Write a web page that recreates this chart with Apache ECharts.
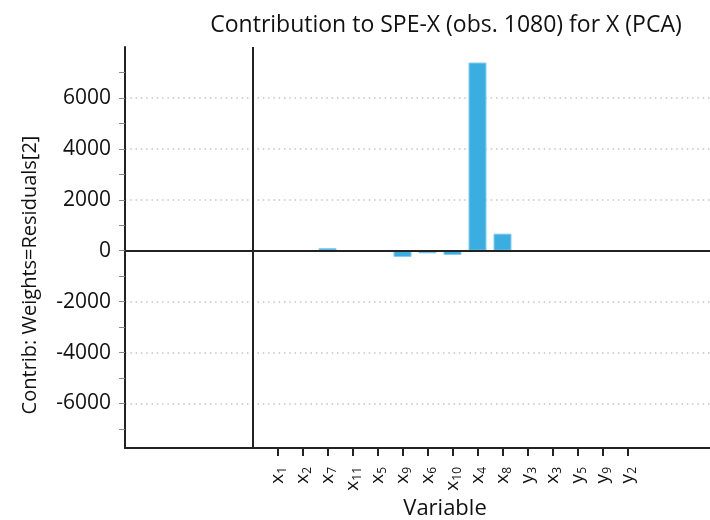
<!DOCTYPE html>
<html>
<head>
<meta charset="utf-8">
<script src="https://cdn.jsdelivr.net/npm/echarts@6/dist/echarts.min.js"></script>
<style>
html,body{margin:0;padding:0;background:#fff;}
#chart{width:710px;height:520px;}
</style>
</head>
<body>
<div id="chart"></div>
<script>
// Data
const variableNames = ['x', 'x', 'x', 'x', 'x', 'x', 'x', 'x', 'x', 'x', 'y', 'x', 'y', 'y', 'y'];
const variableSubs = ['1', '2', '7', '11', '5', '9', '6', '10', '4', '8', '3', '3', '5', '9', '2'];
const positions = [1, 2, 3, 4, 5, 6, 7, 8, 9, 10, 11, 12, 13, 14, 15];
const contribValues = [6, 4, 100, 5, 8, -250, -105, -170, 7390, 670, 5, 4, 6, 3, 5];
const yLabelTicks = [-6000, -4000, -2000, 0, 2000, 4000, 6000];
const yMinorTicks = [-7000, -6000, -5000, -4000, -3000, -2000, -1000, 0, 1000, 2000, 3000, 4000, 5000, 6000, 7000];

const FONT = 'Open Sans';
const chart = echarts.init(document.getElementById('chart'));
const labelMap = {};
positions.forEach((p, i) => { labelMap[p] = '{b|' + variableNames[i] + '}{s|' + variableSubs[i] + '}'; });

chart.setOption({
  animation: false,
  backgroundColor: '#fff',
  textStyle: { fontFamily: FONT },
  title: {
    text: 'Contribution to SPE-X (obs. 1080) for X (PCA)',
    left: 441, top: 9, textAlign: 'center',
    textStyle: { fontFamily: FONT, fontSize: 23, fontWeight: 'normal', color: '#111' }
  },
  graphic: [{
    type: 'text', x: 445, y: 509,
    style: { text: 'Variable', font: '22px "Open Sans"', fill: '#111', align: 'center', verticalAlign: 'middle' }
  }, {
    type: 'text', x: 30, y: 275, rotation: Math.PI / 2,
    style: { text: 'Contrib: Weights=Residuals[2]', font: '20px "Open Sans"', fill: '#111', align: 'center', verticalAlign: 'middle' }
  }],
  grid: { left: 125, right: 0, top: 47, bottom: 72 },
  xAxis: {
    type: 'value', min: -5.1, max: 18.3,
    axisLine: { show: true, onZero: false, lineStyle: { color: '#222', width: 2 } },
    axisTick: { show: true, customValues: positions, length: 8, lineStyle: { color: '#222', width: 2 } },
    axisLabel: {
      customValues: positions, rotate: 90, margin: 19,
      formatter: v => labelMap[v] || '',
      rich: {
        b: { fontFamily: FONT, fontSize: 19, color: '#111', lineHeight: 22 },
        s: { fontFamily: FONT, fontSize: 12, color: '#111', lineHeight: 22, verticalAlign: 'bottom', padding: [7, 0, 0, 0] }
      }
    },
    splitLine: { show: false }
  },
  yAxis: [{
    type: 'value', min: -7750, max: 8000,
    axisLine: { show: true, onZero: false, lineStyle: { color: '#222', width: 2 } },
    axisTick: { show: true, customValues: yMinorTicks, length: 6, lineStyle: { color: '#888', width: 1 } },
    axisLabel: { customValues: yLabelTicks, margin: 14, fontFamily: FONT, fontSize: 21, color: '#111', formatter: v => String(v) },
    splitLine: { show: false }
  }, {
    type: 'value', min: -7750, max: 8000, position: 'left',
    axisLine: { show: false }, axisLabel: { show: false },
    axisTick: { show: false, customValues: yLabelTicks },
    splitLine: { show: true, lineStyle: { color: '#c4c4c4', width: 1.5, type: [1.5, 3.8] } }
  }],
  series: [{
    type: 'bar',
    data: positions.map((p, i) => [p, contribValues[i]]),
    barWidth: 18,
    itemStyle: { color: '#3aade1', borderColor: '#86cdef', borderWidth: 1 },
    markLine: {
      silent: true, symbol: 'none', label: { show: false },
      lineStyle: { color: '#222', width: 2, type: 'solid' },
      data: [{ yAxis: 0 }, { xAxis: 0 }]
    }
  }]
});
</script>
</body>
</html>
